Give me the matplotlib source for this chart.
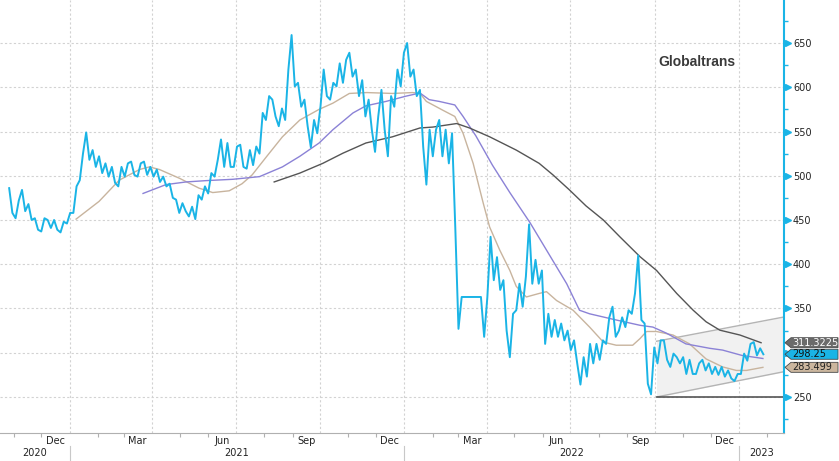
import pandas as pd
import matplotlib
matplotlib.use("Agg")
import matplotlib.pyplot as plt
import matplotlib.dates as mdates
import matplotlib.transforms as mtransforms
from matplotlib.patches import Polygon

title = "Globaltrans"

# weekly high / low of the share price, weeks starting 2020-10-26
week_start = "2020-10-26"
price_hi = [486, 472, 484, 468, 452, 452, 450, 450, 448, 458,
            488, 525, 549, 529, 522, 514, 510, 510, 514, 516,
            514, 516, 510, 507, 499, 491, 473, 469, 465, 478,
            488, 503, 518, 541, 537, 533, 535, 529, 533, 571,
            590, 586, 576, 620, 659, 605, 586, 563, 578, 620,
            605, 627, 631, 639, 620, 608, 586, 567, 597, 590,
            620, 639, 650, 620, 597, 552, 552, 563, 552, 548,
            363, 363, 363, 363, 363, 431, 408, 382, 344, 378,
            386, 445, 405, 393, 344, 337, 333, 325, 314, 295,
            310, 310, 314, 340, 352, 340, 348, 367, 410, 333,
            306, 314, 314, 299, 295, 295, 292, 288, 292, 288,
            284, 284, 280, 276, 299, 310, 312, 305]
price_lo = [458, 452, 460, 450, 439, 437, 441, 439, 436, 446,
            458, 495, 518, 510, 503, 499, 492, 488, 499, 501,
            499, 501, 499, 493, 488, 475, 458, 460, 454, 451,
            473, 480, 499, 510, 510, 510, 510, 508, 512, 525,
            563, 567, 556, 563, 601, 578, 556, 532, 548, 590,
            586, 601, 605, 612, 590, 567, 552, 527, 552, 522,
            578, 601, 612, 590, 533, 490, 522, 522, 514, 442,
            327, 363, 363, 363, 318, 382, 371, 325, 295, 348,
            352, 378, 378, 310, 318, 318, 314, 303, 288, 264,
            273, 288, 292, 310, 318, 325, 329, 344, 337, 265,
            253, 288, 292, 284, 288, 276, 276, 276, 280, 276,
            275, 273, 271, 268, 276, 291, 297, 298.25]

ma50_dates = ["2021-01-08", "2021-02-02", "2021-02-24", "2021-03-18", "2021-03-29",
              "2021-04-09", "2021-05-01", "2021-05-22", "2021-06-06", "2021-06-24",
              "2021-07-08", "2021-07-19", "2021-08-04", "2021-08-21", "2021-09-09",
              "2021-09-30", "2021-10-15", "2021-11-02", "2021-11-21", "2021-12-19",
              "2022-01-10", "2022-01-18", "2022-01-25", "2022-02-12", "2022-02-25",
              "2022-03-06", "2022-03-17", "2022-03-28", "2022-04-04", "2022-04-15",
              "2022-04-26", "2022-05-03", "2022-05-14", "2022-05-28", "2022-06-05",
              "2022-06-16", "2022-07-04", "2022-07-22", "2022-08-06", "2022-08-20",
              "2022-09-07", "2022-09-15", "2022-09-22", "2022-10-03", "2022-10-21",
              "2022-11-08", "2022-11-26", "2022-12-14", "2022-12-29", "2023-01-09",
              "2023-01-27"]
ma50_vals = [451, 471, 495, 507, 510, 507, 497, 486, 481, 483,
             491, 501, 522, 544, 563, 575, 582, 593, 594, 593,
             594, 593, 584, 574, 567, 548, 514, 469, 442, 416,
             393, 375, 363, 367, 369, 359, 348, 329, 312, 308.5,
             308.5, 316, 324, 324, 320, 310, 293, 284, 280, 280,
             283.499]

ma100_dates = ["2021-03-22", "2021-04-16", "2021-05-08", "2021-05-30", "2021-06-28",
               "2021-07-27", "2021-08-21", "2021-09-09", "2021-09-30", "2021-10-15",
               "2021-11-06", "2021-11-20", "2021-12-12", "2022-01-03", "2022-01-18",
               "2022-01-28", "2022-02-08", "2022-02-25", "2022-03-06", "2022-03-20",
               "2022-04-07", "2022-04-26", "2022-05-18", "2022-06-05", "2022-06-27",
               "2022-07-11", "2022-07-22", "2022-08-20", "2022-09-15", "2022-09-29",
               "2022-10-14", "2022-11-04", "2022-11-30", "2022-12-14", "2023-01-04",
               "2023-01-27"]
ma100_vals = [480, 490, 493, 494.5, 496, 499, 510, 522, 537, 552,
              571, 579, 584, 590, 593.5, 586, 584, 580, 567, 545,
              512, 481, 447, 416, 378, 348, 344, 337, 331, 329,
              322, 310, 305, 303, 297, 293.5]

ma200_dates = ["2021-08-12", "2021-09-09", "2021-10-04", "2021-10-26", "2021-11-20",
               "2021-12-19", "2022-01-18", "2022-02-01", "2022-02-27", "2022-03-13",
               "2022-04-04", "2022-05-03", "2022-05-28", "2022-06-12", "2022-06-30",
               "2022-07-18", "2022-08-06", "2022-08-24", "2022-09-15", "2022-10-03",
               "2022-10-25", "2022-11-12", "2022-11-26", "2022-12-11", "2023-01-02",
               "2023-01-25"]
ma200_vals = [493, 503, 514, 525.5, 537, 544, 554, 555, 559, 554,
              544, 529, 514, 501, 484, 466, 450, 431, 408.5, 393,
              367, 348, 335, 325.5, 320, 311.3225]

# trend channel drawn on the chart
channel_dates = ["2022-10-03", "2023-02-19"]
channel_upper = [313, 340.4]
channel_lower = [250, 278.6]
support_level = 250

tag_texts = ["311.3225", "298.25", "283.499"]
tag_vals = [311.3225, 298.25, 283.499]
tag_faces = ["#6b6b6b", "#1ab4e6", "#cbb69e"]
tag_fonts = ["white", "#111111", "#222222"]

yticks = [250, 300, 350, 400, 450, 500, 550, 600, 650]
# the 300 label sits under the value tags in the original
ytick_labels = ["250", "", "350", "400", "450", "500", "550", "600", "650"]
month_labels = ["Dec", "Mar", "Jun", "Sep", "Dec", "Mar", "Jun", "Sep", "Dec"]
month_label_dates = ["2020-12-16", "2021-03-16", "2021-06-16", "2021-09-16", "2021-12-16",
                     "2022-03-16", "2022-06-16", "2022-09-16", "2022-12-16"]
year_labels = ["2020", "2021", "2022", "2023"]
year_label_dates = ["2020-11-24", "2021-07-02", "2022-07-02", "2023-01-26"]
year_breaks = ["2021-01-01", "2022-01-01", "2023-01-01"]

CYAN = "#1ab4e6"

# build a zig-zag line out of the weekly ranges
pts_x, pts_y = [], []
n = len(price_hi)
for w in range(n):
    t0 = pd.Timestamp(week_start) + pd.Timedelta(days=7 * w)
    up = w + 1 < n and (price_hi[w + 1] + price_lo[w + 1]) >= (price_hi[w] + price_lo[w])
    a, b = (price_lo[w], price_hi[w]) if up else (price_hi[w], price_lo[w])
    pts_x += [t0 + pd.Timedelta(days=1), t0 + pd.Timedelta(days=4.5)]
    pts_y += [a, b]

W, H = 839, 461
fig = plt.figure(figsize=(W / 100, H / 100), dpi=100)
ax = fig.add_axes([0, 1 - 433 / H, 784 / W, 433 / H])

xlim = (pd.Timestamp("2020-10-17"), pd.Timestamp("2023-02-19"))
ax.set_xlim(xlim)
ax.set_ylim(209.3, 698.6)

# channel
cd = pd.to_datetime(channel_dates)
ax.fill_between(cd, channel_lower, channel_upper, color="#f1f1f1", zorder=1, lw=0)
ax.plot(cd, channel_upper, color="#b4b4b4", lw=1, zorder=2)
ax.plot(cd, channel_lower, color="#b4b4b4", lw=1, zorder=2)
ax.plot(cd, [support_level, support_level], color="#555555", lw=1.2, zorder=2)

ax.plot(pd.to_datetime(ma50_dates), ma50_vals, color="#c8b49e", lw=1, zorder=3)
ax.plot(pd.to_datetime(ma100_dates), ma100_vals, color="#8b82d6", lw=1, zorder=3)
ax.plot(pd.to_datetime(ma200_dates), ma200_vals, color="#555555", lw=1, zorder=3)
ax.plot(pts_x, pts_y, color=CYAN, lw=1.4, zorder=4)

# grid
qstarts = pd.date_range("2021-01-01", "2023-01-01", freq="QS")
ax.set_xticks(qstarts)
ax.set_xticks(pd.date_range("2020-11-01", "2023-02-01", freq="MS"), minor=True)
ax.set_xticklabels([])
ax.tick_params(axis="x", which="major", length=0)
ax.tick_params(axis="x", which="minor", length=3, color="#b0b0b0", width=0.8)
ax.set_yticks(yticks)
ax.set_yticklabels(ytick_labels)
ax.set_yticks(range(225, 700, 50), minor=True)
ax.yaxis.tick_right()
ax.tick_params(axis="y", which="major", length=0, pad=6.5, labelsize=7, labelcolor="#222222")
ax.tick_params(axis="y", which="minor", length=3, color=CYAN, width=1)
ax.grid(True, which="major", color="#d2d2d2", lw=0.8, ls=(0, (2, 2)))
ax.set_axisbelow(True)

for s in ["top", "left"]:
    ax.spines[s].set_visible(False)
ax.spines["right"].set_color(CYAN)
ax.spines["right"].set_linewidth(1.5)
ax.spines["bottom"].set_color("#b0b0b0")

# cyan tick arrows on the right axis
tr = mtransforms.blended_transform_factory(ax.transAxes, ax.transData)
ax.plot([788 / 784] * len(yticks), yticks, ls="none", marker=">", ms=5,
        color=CYAN, transform=tr, clip_on=False, zorder=5)

# date labels
trx = mtransforms.blended_transform_factory(ax.transData, ax.transAxes)
for lab, d in zip(month_labels, month_label_dates):
    ax.text(pd.Timestamp(d), -8 / 433, lab, transform=trx, ha="center", va="center",
            fontsize=7, color="#222222")
for lab, d in zip(year_labels, year_label_dates):
    ax.text(pd.Timestamp(d), -20 / 433, lab, transform=trx, ha="center", va="center",
            fontsize=7, color="#222222")
for d in year_breaks:
    ax.plot([pd.Timestamp(d)] * 2, [-13 / 433, -28 / 433], transform=trx,
            color="#c8c8c8", lw=0.8, clip_on=False)

ax.text(697 / 784, 1 - 62 / 433, title, transform=ax.transAxes, ha="center", va="center",
        fontsize=10, fontweight="bold", color="#3a3a3a", family="Liberation Sans")

# last value tags
inv = fig.transFigure.inverted()
for txt, v, fc, tc in zip(tag_texts, tag_vals, tag_faces, tag_fonts):
    yc = inv.transform(ax.transData.transform((mdates.date2num(xlim[0]), v)))[1]
    hh = 5 / H
    x0, x1, x2 = 785 / W, 791 / W, 838 / W
    poly = Polygon([(x0, yc), (x1, yc + hh), (x2, yc + hh), (x2, yc - hh), (x1, yc - hh)],
                   closed=True, transform=fig.transFigure, facecolor=fc,
                   edgecolor="#4a4a4a", lw=0.6, zorder=10)
    fig.add_artist(poly)
    fig.text(792 / W, yc, txt, ha="left", va="center", fontsize=7, color=tc, zorder=11)

fig.savefig("out.png", dpi=100)
